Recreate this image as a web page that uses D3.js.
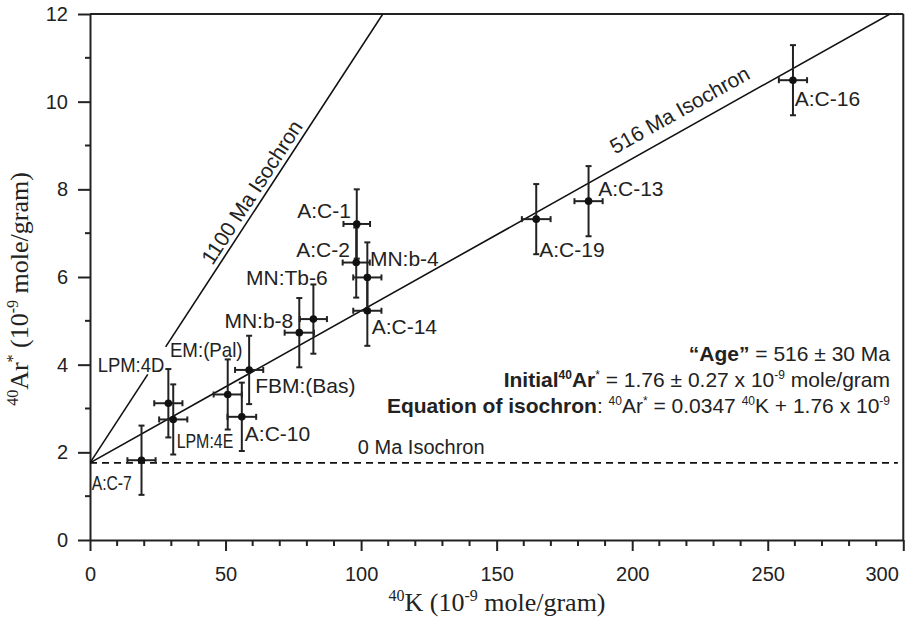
<!DOCTYPE html>
<html><head><meta charset="utf-8">
<script src="https://cdn.jsdelivr.net/npm/d3@7"></script>
<style>body{margin:0;background:#fff}</style>
</head><body><svg id="c" width="907" height="617"></svg>
<script>
// ---- data ----
const sampleNames = ["A:C-7","LPM:4D","LPM:4E","EM:(Pal)","A:C-10","FBM:(Bas)","MN:b-8","MN:Tb-6","A:C-1","A:C-2","MN:b-4","A:C-14","A:C-19","A:C-13","A:C-16"];
const k40 = [19.0,28.9,30.7,50.8,56.0,58.7,77.2,82.4,98.4,98.2,102.3,102.3,164.6,183.9,259.3];
const ar40 = [1.82,3.12,2.75,3.32,2.81,3.88,4.73,5.04,7.21,6.33,5.99,5.23,7.32,7.73,10.49];
const k40Err = [5.2,5.2,5.2,5.2,5.3,5.2,5.4,5.0,4.9,5.0,5.2,5.2,5.3,5.2,5.2];
const ar40Err = [0.79,0.78,0.8,0.8,0.78,0.78,0.79,0.79,0.79,0.8,0.8,0.8,0.8,0.8,0.8];
const xTicks = [0,50,100,150,200,250,300];
const yTicks = [0,2,4,6,8,10,12];
const xMinor = d3.range(0,301,10);
const yMinor = d3.range(0,13,1);
const isochronIntercept = 1.76;
const slope516 = 0.0347;
const slope1100 = 0.0948;
const segments1100 = [[0,21.3],[27.9,108.0]];
const label516Pos = 221;
const label1100Pos = 63.5;
const label0Pos = 98.8;

// ---- layout (pixel offsets of point labels; not data) ----
const labelLayout = [
  {dx:-49.8,dy:29.8,anchor:"start",w:40},
  {dx:-70.7,dy:-31.6,anchor:"start",w:66.7},
  {dx:3.4,dy:28.5,anchor:"start",w:56.7},
  {dx:-57.8,dy:-37.5,anchor:"start",w:72.7},
  {dx:3,dy:24,anchor:"start"},
  {dx:6,dy:23,anchor:"start"},
  {dx:-6,dy:-4.7,anchor:"end"},
  {dx:-67.4,dy:-34,anchor:"start"},
  {dx:-5.8,dy:-6,anchor:"end"},
  {dx:-6.3,dy:-5.6,anchor:"end"},
  {dx:2.6,dy:-11.5,anchor:"start"},
  {dx:4.3,dy:23.2,anchor:"start"},
  {dx:3,dy:37.8,anchor:"start"},
  {dx:9.6,dy:-5.2,anchor:"start"},
  {dx:1.8,dy:25.8,anchor:"start"}
];

const svg = d3.select("#c");
const L = 90, R = 903.3, T = 14, B = 540;
const x = d3.scaleLinear().domain([0,300]).range([L,R]);
const y = d3.scaleLinear().domain([0,12]).range([B,T]);
const sans = "'Liberation Sans', Arial, sans-serif";
const serif = "'Liberation Serif', 'Times New Roman', serif";

svg.append("clipPath").attr("id","clip").append("rect")
  .attr("x",L).attr("y",T).attr("width",R-L).attr("height",B-T);

// axes
const xAxis = d3.axisBottom(x).tickValues(xTicks).tickSize(11).tickSizeOuter(0).tickPadding(16);
const gx = svg.append("g").attr("transform",`translate(0,${B})`).call(xAxis);
const yAxis = d3.axisLeft(y).tickValues(yTicks).tickSize(12).tickSizeOuter(0).tickPadding(10);
const gy = svg.append("g").attr("transform",`translate(${L},0)`).call(yAxis);
[gx,gy].forEach(g=>{
  g.selectAll("path.domain").attr("stroke","#222").attr("stroke-width",2);
  g.selectAll(".tick line").attr("stroke","#222").attr("stroke-width",2);
  g.selectAll(".tick text").attr("fill","#222").style("font-family",sans).style("font-size","20px");
});
// last x label sits left of its tick (as in the reference)
gx.selectAll(".tick text").filter(d=>d===300).attr("text-anchor","end").attr("x",-5);
// minor ticks
svg.append("g").selectAll("line").data(xMinor.filter(v=>!xTicks.includes(v))).join("line")
  .attr("x1",d=>x(d)).attr("x2",d=>x(d)).attr("y1",B).attr("y2",B+6)
  .attr("stroke","#222").attr("stroke-width",2);
svg.append("g").selectAll("line").data(yMinor.filter(v=>!yTicks.includes(v))).join("line")
  .attr("y1",d=>y(d)).attr("y2",d=>y(d)).attr("x1",L).attr("x2",L-5)
  .attr("stroke","#222").attr("stroke-width",2);
// frame
svg.append("line").attr("x1",L).attr("x2",R).attr("y1",y(12)).attr("y2",y(12)).attr("stroke","#222").attr("stroke-width",2);
svg.append("line").attr("x1",R).attr("x2",R).attr("y1",y(12)).attr("y2",B).attr("stroke","#222").attr("stroke-width",2);

const plot = svg.append("g").attr("clip-path","url(#clip)");
// isochrons
plot.append("line").attr("x1",x(0)).attr("y1",y(isochronIntercept))
  .attr("x2",x(300)).attr("y2",y(isochronIntercept+slope516*300))
  .attr("stroke","#111").attr("stroke-width",1.6);
segments1100.forEach(s=>{
  plot.append("line").attr("x1",x(s[0])).attr("y1",y(isochronIntercept+slope1100*s[0]))
    .attr("x2",x(s[1])).attr("y2",y(isochronIntercept+slope1100*s[1]))
    .attr("stroke","#111").attr("stroke-width",1.6);
});
plot.append("line").attr("x1",x(0)).attr("x2",x(298)).attr("y1",y(isochronIntercept)).attr("y2",y(isochronIntercept))
  .attr("stroke","#111").attr("stroke-width",1.6).attr("stroke-dasharray","7,5");

function lineLabel(pos, slope, txt, off){
  const px = x(pos), py = y(isochronIntercept+slope*pos);
  const ang = Math.atan2(y(isochronIntercept+slope*(pos+10))-py, x(pos+10)-px)*180/Math.PI;
  svg.append("text").attr("transform",`translate(${px},${py}) rotate(${ang})`)
    .attr("text-anchor","middle").attr("dy",off)
    .style("font-family",sans).style("font-size","21px").attr("fill","#222").text(txt);
}
lineLabel(label1100Pos, slope1100, "1100 Ma Isochron", -5);
lineLabel(label516Pos, slope516, "516 Ma Isochron", -12);
svg.append("text").attr("x",x(label0Pos)).attr("y",y(isochronIntercept)-9)
  .style("font-family",sans).style("font-size","20px").attr("fill","#222").text("0 Ma Isochron");

// error bars & points
const pts = sampleNames.map((n,i)=>({n,k:k40[i],a:ar40[i],ek:k40Err[i],ea:ar40Err[i],lay:labelLayout[i]}));
const eb = svg.append("g").attr("stroke","#222").attr("stroke-width",2);
pts.forEach(p=>{
  const cx=x(p.k), cy=y(p.a);
  eb.append("line").attr("x1",cx).attr("x2",cx).attr("y1",y(p.a-p.ea)).attr("y2",y(p.a+p.ea));
  eb.append("line").attr("x1",cx-3).attr("x2",cx+3).attr("y1",y(p.a-p.ea)).attr("y2",y(p.a-p.ea));
  eb.append("line").attr("x1",cx-3).attr("x2",cx+3).attr("y1",y(p.a+p.ea)).attr("y2",y(p.a+p.ea));
  eb.append("line").attr("x1",x(p.k-p.ek)).attr("x2",x(p.k+p.ek)).attr("y1",cy).attr("y2",cy);
  eb.append("line").attr("x1",x(p.k-p.ek)).attr("x2",x(p.k-p.ek)).attr("y1",cy-3).attr("y2",cy+3);
  eb.append("line").attr("x1",x(p.k+p.ek)).attr("x2",x(p.k+p.ek)).attr("y1",cy-3).attr("y2",cy+3);
});
svg.append("g").selectAll("circle").data(pts).join("circle")
  .attr("cx",d=>x(d.k)).attr("cy",d=>y(d.a)).attr("r",3.8).attr("fill","#111");
const lab = svg.append("g").selectAll("text").data(pts).join("text")
  .attr("x",d=>x(d.k)+d.lay.dx).attr("y",d=>y(d.a)+d.lay.dy)
  .attr("text-anchor",d=>d.lay.anchor)
  .style("font-family",sans).style("font-size","21px").attr("fill","#222")
  .text(d=>d.n);
lab.filter(d=>d.lay.w).attr("textLength",d=>d.lay.w).attr("lengthAdjust","spacingAndGlyphs");

// annotation block
function rich(xr, yb, parts){
  const t = svg.append("text").attr("x",xr).attr("y",yb).attr("text-anchor","end")
    .style("font-family",sans).style("font-size","21px").attr("fill","#222");
  let raised = false;
  parts.forEach(p=>{
    const ts = t.append("tspan").text(p.t);
    if(p.b) ts.style("font-weight","bold");
    if(p.sup && !raised){ ts.attr("dy",-8).style("font-size","12px"); raised=true; }
    else if(p.sup){ ts.style("font-size","12px"); }
    else if(raised){ ts.attr("dy",8); raised=false; }
  });
}
rich(890, 361, [{t:"\u201CAge\u201D",b:1},{t:" = 516 \u00B1 30 Ma"}]);
rich(890, 387, [{t:"Initial",b:1},{t:"40",b:1,sup:1},{t:"Ar",b:1},{t:"*",sup:1},{t:" = 1.76 \u00B1 0.27 x 10"},{t:"-9",sup:1},{t:" mole/gram"}]);
rich(890, 413, [{t:"Equation of isochron",b:1},{t:":  "},{t:"40",sup:1},{t:"Ar"},{t:"*",sup:1},{t:" = 0.0347 "},{t:"40",sup:1},{t:"K + 1.76 x 10"},{t:"-9",sup:1}]);

// axis titles
function title(g, parts){
  let raised=false;
  parts.forEach(p=>{
    const ts = g.append("tspan").text(p.t);
    if(p.sup && !raised){ ts.attr("dy",-10).style("font-size","16px"); raised=true; }
    else if(p.sup){ ts.style("font-size","16px"); }
    else if(raised){ ts.attr("dy",10); raised=false; }
  });
}
const xt = svg.append("text").attr("x",497).attr("y",611).attr("text-anchor","middle")
  .style("font-family",serif).style("font-size","26px").attr("fill","#222");
title(xt,[{t:"40",sup:1},{t:"K (10"},{t:"-9",sup:1},{t:" mole/gram)"}]);
const yt = svg.append("text").attr("transform","translate(28,289) rotate(-90)").attr("text-anchor","middle")
  .style("font-family",serif).style("font-size","26px").attr("fill","#222");
title(yt,[{t:"40",sup:1},{t:"Ar"},{t:"*",sup:1},{t:" (10"},{t:"-9",sup:1},{t:" mole/gram)"}]);
</script></body></html>
